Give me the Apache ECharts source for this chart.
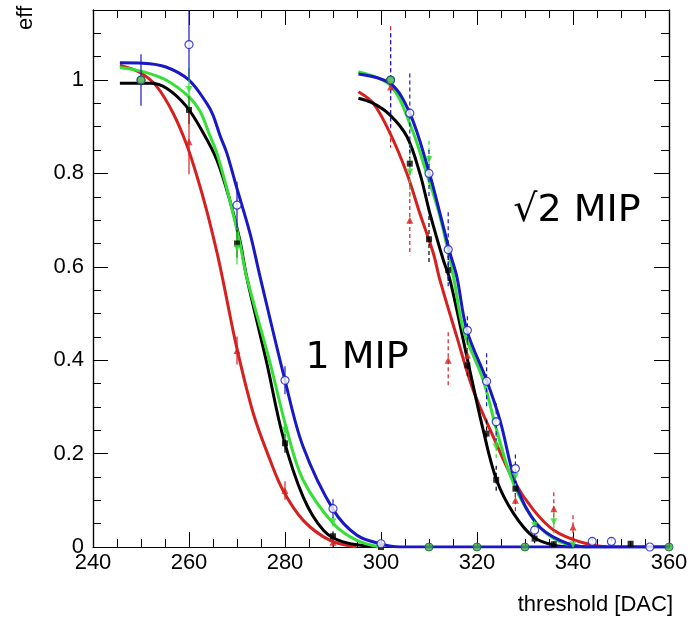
<!DOCTYPE html>
<html>
<head>
<meta charset="utf-8">
<script src="https://cdn.jsdelivr.net/npm/echarts@6/dist/echarts.min.js"></script>
<style>
  html, body { margin: 0; padding: 0; background: #fff; }
  #main { width: 691px; height: 620px; }
</style>
</head>
<body>
<div id="main"></div>
<script>
// fit curves [threshold, eff]
var blackFit1 = [[245.6,0.993],[251.9,0.993],[255.4,0.982],[259.5,0.943],[263.0,0.886],[265.8,0.829],[268.5,0.743],[270.6,0.657],[272.0,0.579],[276.2,0.394],[279.6,0.236],[283.8,0.107],[288.0,0.036],[292.1,0.011],[299.8,0.0]];
var redFit1 = [[245.6,1.032],[249.8,1.016],[253.3,0.986],[256.7,0.929],[259.5,0.862],[261.6,0.796],[263.7,0.72],[265.8,0.632],[267.1,0.57],[269.9,0.429],[273.4,0.286],[276.9,0.186],[279.6,0.121],[283.8,0.057],[289.4,0.014],[294.9,0.0]];
var greenFit1 = [[245.6,1.027],[250.4,1.018],[255.2,1.0],[260.0,0.964],[262.3,0.933],[264.4,0.88],[265.8,0.844],[268.5,0.743],[270.6,0.651],[272.0,0.579],[276.9,0.394],[280.4,0.25],[283.8,0.143],[290.1,0.05],[295.0,0.014],[299.8,0.0]];
var blueFit1 = [[245.6,1.037],[250.4,1.036],[255.2,1.028],[260.0,1.0],[263.7,0.95],[265.0,0.925],[266.5,0.88],[267.9,0.843],[269.9,0.771],[272.7,0.672],[274.8,0.579],[280.0,0.357],[283.8,0.214],[290.1,0.079],[295.0,0.025],[299.8,0.007],[304.0,0.0],[360,0.0]];

var blackFit2 = [[295.3,0.961],[298.4,0.95],[301.9,0.925],[305.4,0.879],[308.1,0.8],[310.2,0.714],[313.0,0.614],[314.4,0.571],[317.9,0.407],[321.3,0.25],[324.1,0.143],[327.6,0.072],[331.8,0.021],[336.0,0.004],[340.1,0.0]];
var redFit2 = [[295.3,0.975],[298.4,0.95],[301.9,0.886],[305.4,0.8],[308.1,0.714],[310.9,0.629],[312.3,0.571],[315.8,0.45],[319.2,0.336],[323.4,0.236],[327.6,0.143],[331.8,0.079],[336.0,0.036],[341.5,0.011],[347.0,0.0]];
var greenFit2 = [[295.3,1.018],[301.9,0.989],[306.0,0.907],[309.5,0.8],[312.3,0.707],[315.1,0.579],[317.2,0.464],[321.3,0.357],[324.1,0.25],[327.6,0.136],[332.4,0.05],[337.3,0.011],[342.9,0.0]];
var blueFit2 = [[295.3,1.013],[301.9,0.993],[306.0,0.929],[309.9,0.807],[312.3,0.714],[314.4,0.629],[315.8,0.579],[317.9,0.464],[322.0,0.357],[324.8,0.271],[328.3,0.129],[332.4,0.05],[337.3,0.014],[342.9,0.0],[360,0.0]];

// measured points  [threshold, eff, error]
var blackPts1 = [[260,0.936,0.03],[270,0.65,0.03],[280,0.222,0.02],[290,0.023,0.01],[300,0,0]];
var redPts1 = [[260,0.868,0.07],[270,0.421,0.03],[280,0.121,0.02],[290,0.01,0.01]];
var greenPts1 = [[260,0.98,0.045],[270,0.64,0.035],[280,0.25,0.02],[290,0.054,0.01]];
var bluePts1 = [[250,1.0,0.055],[260,1.076,0.076],[270,0.732,0.05],[280,0.357,0.03],[290,0.082,0.02],[300,0.007,0.005]];

var blackPts2 = [[306,0.821,0.03],[310,0.659,0.05],[314,0.593,0.03],[318,0.389,0.03],[322,0.243,0.03],[324,0.144,0.03],[328,0.125,0.02],[332,0.018,0.01],[336,0.006,0.005],[352,0.007,0.005]];
var redPts2 = [[302,0.985,0.13],[306,0.7,0.075],[314,0.4,0.06],[318,0.411,0.03],[328,0.1,0.03],[336,0.082,0.035],[340,0.043,0.025]];
var greenPts2 = [[306,0.803,0.06],[310,0.83,0.04],[324,0.214,0.03],[328,0.151,0.03],[332,0.046,0.01],[336,0.054,0.025],[340,0.005,0.005]];
var bluePts2 = [[302,1.0,0.1],[306,0.929,0.085],[310,0.8,0.05],[314,0.637,0.08],[318,0.464,0.03],[322,0.355,0.06],[324,0.268,0.04],[328,0.168,0.03],[332,0.036,0.01],[344,0.012,0.008],[348,0.012,0.008],[356,0,0]];
var greenDots = [[250,1.0],[302,1.0],[310,0],[320,0],[330,0],[360,0]];

var yMajor = [0, 0.2, 0.4, 0.6, 0.8, 1];

var BLACK = '#000000', RED = '#d62020', GREEN = '#35e035', BLUE = '#1818c4';
var FONT = 'Liberation Sans';

var myChart = echarts.init(document.getElementById('main'));

function fit(data, color, z) {
    return {
        type: 'line', data: data, showSymbol: false, smooth: 0.35,
        lineStyle: {color: color, width: 3}, z: z, silent: true, clip: true
    };
}

function errBars(data, color, dashed) {
    return {
        type: 'custom', data: data, clip: true, z: 6, silent: true,
        encode: {x: 0, y: 1},
        renderItem: function (params, api) {
            var hi = api.coord([api.value(0), api.value(1) + api.value(2)]);
            var lo = api.coord([api.value(0), api.value(1) - api.value(2)]);
            return {
                type: 'line',
                shape: {x1: hi[0], y1: hi[1], x2: lo[0], y2: lo[1]},
                style: {stroke: color, lineWidth: 1.2, lineDash: dashed ? [4, 3] : null}
            };
        }
    };
}

function marks(data, symbol, size, style, rotate) {
    return {
        type: 'scatter', data: data, symbol: symbol, symbolSize: size, symbolRotate: rotate || 0,
        itemStyle: style, z: 8, silent: true, encode: {x: 0, y: 1}
    };
}

function xAx(pos, showLabel) {
    return {
        type: 'value', min: 240, max: 360, interval: 20, position: pos,
        axisLine: {onZero: false, lineStyle: {color: BLACK, width: 1.2}},
        axisTick: {inside: true, length: 15, lineStyle: {color: BLACK}},
        minorTick: {show: true, splitNumber: 4, length: 8, lineStyle: {color: BLACK}},
        splitLine: {show: false},
        axisLabel: {show: showLabel, margin: 5, fontSize: 22, fontFamily: FONT, color: BLACK}
    };
}

function yAx(pos, interval, len, showLabel) {
    return {
        type: 'value', min: 0, max: 1.15, interval: interval, position: pos,
        axisLine: {onZero: false, lineStyle: {color: BLACK, width: 1.2}},
        axisTick: {inside: true, length: len, lineStyle: {color: BLACK}},
        splitLine: {show: false},
        axisLabel: {
            show: showLabel, margin: 9, fontSize: 22, fontFamily: FONT, color: BLACK,
            showMaxLabel: false,
            formatter: function (v) {
                for (var i = 0; i < yMajor.length; i++) {
                    if (Math.abs(v - yMajor[i]) < 1e-6) return String(yMajor[i]);
                }
                return '';
            }
        }
    };
}

var option = {
    animation: false,
    backgroundColor: '#fff',
    grid: {left: 93, right: 22, top: 10, bottom: 73},
    xAxis: [xAx('bottom', true), xAx('top', false)],
    yAxis: [yAx('left', 0.05, 8, true), yAx('left', 0.2, 15, false),
            yAx('right', 0.05, 8, false), yAx('right', 0.2, 15, false)],
    graphic: [
        {type: 'text', x: 357, y: 358, style: {text: '1 MIP', font: '38px "DejaVu Sans"', fill: BLACK, align: 'center', verticalAlign: 'middle'}},
        {type: 'text', x: 577, y: 211, style: {text: '√2 MIP', font: '38px "DejaVu Sans"', fill: BLACK, align: 'center', verticalAlign: 'middle'}},
        {type: 'text', x: 26, y: 18, rotation: Math.PI / 2, style: {text: 'eff', font: '22px "Liberation Sans"', fill: BLACK, align: 'center', verticalAlign: 'middle'}},
        {type: 'text', x: 673, y: 605, style: {text: 'threshold [DAC]', font: '22px "Liberation Sans"', fill: BLACK, align: 'right', verticalAlign: 'middle'}}
    ],
    series: [
        fit(redFit1, RED, 2), fit(blackFit1, BLACK, 3), fit(greenFit1, GREEN, 4), fit(blueFit1, BLUE, 5),
        fit(redFit2, RED, 2), fit(blackFit2, BLACK, 3), fit(greenFit2, GREEN, 4), fit(blueFit2, BLUE, 5),

        errBars(blackPts1, BLACK, false), errBars(redPts1, RED, false),
        errBars(greenPts1, GREEN, false), errBars(bluePts1, BLUE, false),
        errBars(blackPts2, BLACK, true), errBars(redPts2, RED, true),
        errBars(greenPts2, GREEN, true), errBars(bluePts2, BLUE, true),

        marks(blackPts1.concat(blackPts2), 'rect', 6, {color: BLACK}),
        marks(redPts1.concat(redPts2), 'triangle', 7, {color: RED}),
        marks(greenPts1.concat(greenPts2), 'triangle', 7, {color: GREEN}, 180),
        marks(bluePts1.concat(bluePts2), 'circle', 8, {color: '#fff', borderColor: BLUE, borderWidth: 1.2}),
        marks(greenDots, 'circle', 8, {color: '#3cb043', borderColor: '#1d5e4a', borderWidth: 1})
    ]
};

myChart.setOption(option);
window.addEventListener('resize', function () {
    myChart.resize();
});
</script>
</body>
</html>
